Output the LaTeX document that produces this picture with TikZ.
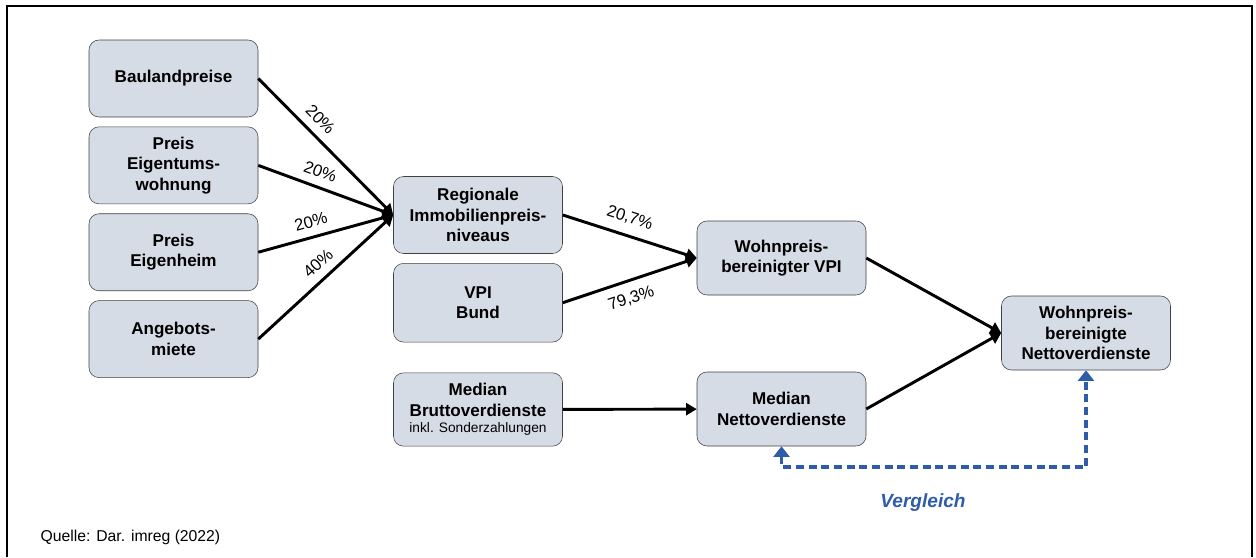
\documentclass[tikz,border=0pt]{standalone}
\usepackage{fontspec}
\setmainfont{Liberation Sans}
\usepackage{xcolor}
\usetikzlibrary{positioning,arrows.meta}
\definecolor{boxfill}{HTML}{D6DCE5}
\definecolor{boxline}{HTML}{404040}
\definecolor{vglblue}{HTML}{2E5CA8}

\begin{document}
\begin{tikzpicture}[
  x=0.75pt, y=-0.75pt,
  font=\fontsize{12.8}{15.4}\selectfont,
  box/.style={draw=boxline, fill=boxfill, rounded corners=7.5pt, align=center,
              inner sep=0pt, minimum width=126.75pt, minimum height=57.75pt,
              font=\fontsize{12.8}{15.4}\selectfont\bfseries},
  lbl/.style={font=\fontsize{12.5}{14}\selectfont, sloped, inner sep=1pt},
  arr/.style={-{Triangle[length=8pt,width=9pt]}, line width=2.2pt},
  vgl/.style={{Triangle[length=8pt,width=12pt]}-{Triangle[length=8pt,width=12pt]},
              line width=2.4pt, vglblue, dash pattern=on 6pt off 3.5pt},
  frame/.style={line width=1.5pt},
]
\useasboundingbox (0,0) rectangle (1256,557);
\draw[frame] (7,557) |- (1252,6) -- (1252,557);
% ---- left column: price inputs ----------------------------------------
\node[box] (bau) at (173.5,78.5) {Baulandpreise};
\node[box, below=7pt of bau] (etw) {Preis\\Eigentums-\\wohnung};
\node[box, below=7pt of etw] (eh) {Preis\\Eigenheim};
\node[box, below=7pt of eh] (miete) {Angebots-\\miete};
% ---- middle column ------------------------------------------------------
\node[box] (reg) at (478,215) {Regionale\\Immobilienpreis-\\niveaus};
\node[box, minimum height=59pt, below=7pt of reg] (vpi) {VPI\\Bund};
\node[box, minimum height=55pt] (brutto) at (478,409.5)
 {Median\\Bruttoverdienste\\[-3pt]
  {\fontsize{10.3}{12}\selectfont\mdseries inkl. Sonderzahlungen}};
% ---- right part -----------------------------------------------------------
\node[box, minimum height=55.5pt] (wvpi) at (781.5,258)
 {Wohnpreis-\\bereinigter VPI};
\node[box, minimum height=55.5pt] (netto) at (781.5,409)
 {Median\\Nettoverdienste};
\node[box, minimum height=55.5pt] (wnetto) at (1086,333)
 {Wohnpreis-\\bereinigte\\Nettoverdienste};
% ---- edges ------------------------------------------------------------
\draw[arr] (bau.east) -- node[lbl, above=5pt, pos=0.38]{20\%} (reg.west);
\draw[arr] (etw.east) -- node[lbl, above=5pt, pos=0.42]{20\%} (reg.west);
\draw[arr] (eh.east) -- node[lbl, above=5pt, pos=0.42]{20\%} (reg.west);
\draw[arr] (miete.east) -- node[lbl, above=5pt, pos=0.52]{40\%} (reg.west);
\draw[arr] (reg.east) -- node[lbl, above=6pt, pos=0.46]{20,7\%} (wvpi.west);
\draw[arr] (vpi.east) -- node[lbl, below=6pt, pos=0.47]{79,3\%} (wvpi.west);
\draw[arr] (brutto) -- (netto);
\draw[arr] (wvpi.east) -- (wnetto.west);
\draw[arr] (netto.east) -- (wnetto.west);
% ---- comparison -------------------------------------------------------
\coordinate (bend) at (923,467);
\draw[vgl] (netto.south) |- (bend) -| (wnetto.south);
\node[font=\fontsize{14.3}{16}\selectfont\bfseries\itshape, text=vglblue]
  (vergl) at (923,503) {Vergleich};
\node[font=\fontsize{11.8}{14}\selectfont, anchor=west] (quelle) at (36,537)
  {Quelle: Dar. imreg (2022)};
\end{tikzpicture}
\end{document}
